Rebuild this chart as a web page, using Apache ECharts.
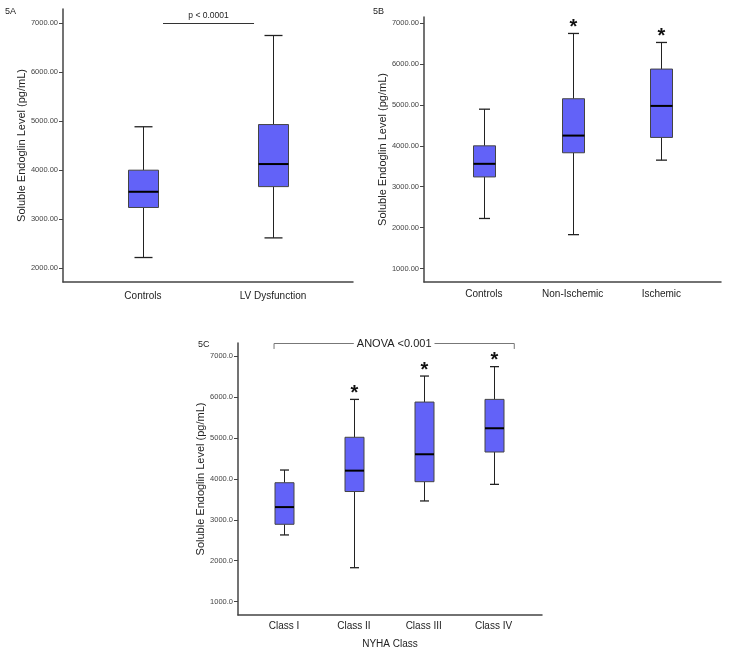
<!DOCTYPE html>
<html>
<head>
<meta charset="utf-8">
<script src="https://cdn.jsdelivr.net/npm/echarts@6/dist/echarts.min.js"></script>
<style>
html,body{margin:0;padding:0;background:#fff;}
#chart{width:729px;height:655px;}
</style>
</head>
<body>
<div id="chart"></div>
<script>
// ---------- DATA ----------
// Panel 5A
const catsA = ['Controls', 'LV Dysfunction'];
const minA = [2220, 2620];
const q1A = [3240, 3665];
const medA = [3560, 4125];
const q3A = [4000, 4930];
const maxA = [4885, 6745];
const sigA = [0, 0];
// Panel 5B
const catsB = ['Controls', 'Non-Ischemic', 'Ischemic'];
const minB = [2225, 1830, 3650];
const q1B = [3240, 3830, 4205];
const medB = [3560, 4250, 4975];
const q3B = [4000, 5150, 5875];
const maxB = [4895, 6745, 6525];
const sigB = [0, 1, 1];
// Panel 5C
const catsC = ['Class I', 'Class II', 'Class III', 'Class IV'];
const minC = [2630, 1830, 3460, 3865];
const q1C = [2890, 3690, 3930, 4655];
const medC = [3310, 4200, 4600, 5235];
const q3C = [3905, 5015, 5875, 5940];
const maxC = [4215, 5940, 6510, 6740];
const sigC = [0, 1, 1, 1];
// Tick values
const yTicksA = [2000, 3000, 4000, 5000, 6000, 7000];
const yTicksB = [1000, 2000, 3000, 4000, 5000, 6000, 7000];
const yTicksC = [1000, 2000, 3000, 4000, 5000, 6000, 7000];
// Annotations
const annotA = { text: 'p < 0.0001', x0: 0.154, x1: 0.854, y: 7000 };
const annotC = { text: 'ANOVA <0.001', x0: -0.143, x1: 3.297, y: 7317, yTick: 7171 };
const yTitle = 'Soluble Endoglin Level (pg/mL)';

// ---------- BUILD ----------
function rows(mins, q1s, meds, q3s, maxs, sigs) {
  return mins.map((m, i) => [i, m, q1s[i], meds[i], q3s[i], maxs[i], sigs[i]]);
}
const FONT = "'Liberation Sans', Arial, sans-serif";
const NARROW = "'Liberation Sans Narrow', 'Liberation Sans', Arial, sans-serif";
const BOX = '#6262f8';

function boxRender(boxW, capW) {
  return function (params, api) {
    const x = api.value(0);
    const lo = api.coord([x, api.value(1)]);
    const q1 = api.coord([x, api.value(2)]);
    const md = api.coord([x, api.value(3)]);
    const q3 = api.coord([x, api.value(4)]);
    const hi = api.coord([x, api.value(5)]);
    const cx = Math.round(lo[0]) + 0.5;
    const wl = { stroke: '#222', lineWidth: 1 };
    const ch = [
      { type: 'line', shape: { x1: cx, y1: lo[1], x2: cx, y2: q1[1] }, style: wl },
      { type: 'line', shape: { x1: cx, y1: q3[1], x2: cx, y2: hi[1] }, style: wl },
      { type: 'line', shape: { x1: cx - capW / 2, y1: lo[1], x2: cx + capW / 2, y2: lo[1] }, style: { stroke: '#222', lineWidth: 1.3 } },
      { type: 'line', shape: { x1: cx - capW / 2, y1: hi[1], x2: cx + capW / 2, y2: hi[1] }, style: { stroke: '#222', lineWidth: 1.3 } },
      { type: 'rect', shape: { x: cx - boxW / 2, y: q3[1], width: boxW, height: q1[1] - q3[1] }, style: { fill: BOX, stroke: '#444', lineWidth: 1 } },
      { type: 'line', shape: { x1: cx - boxW / 2, y1: md[1], x2: cx + boxW / 2, y2: md[1] }, style: { stroke: '#000', lineWidth: 2 } }
    ];
    if (api.value(6)) {
      ch.push({ type: 'text', style: { text: '*', x: cx, y: hi[1] - 6, align: 'center', verticalAlign: 'middle', font: 'bold 20px ' + FONT, fill: '#111' } });
    }
    return { type: 'group', children: ch };
  };
}

function yAxis(gi, min, max, ticks, dec, gap) {
  return {
    type: 'value', gridIndex: gi, min: min, max: max,
    name: yTitle, nameLocation: 'middle', nameGap: gap,
    nameTextStyle: { fontFamily: FONT, fontSize: 11, color: '#222' },
    axisLine: { show: true, onZero: false, lineStyle: { color: '#444', width: 1.5 } },
    axisTick: { show: true, length: 4, lineStyle: { color: '#444' }, customValues: ticks },
    axisLabel: { fontFamily: NARROW, fontSize: 7.5, color: '#444', margin: 5, customValues: ticks,
      formatter: v => Number(v).toFixed(dec) },
    splitLine: { show: false }
  };
}
function xAxis(gi, min, max, cats, margin, name) {
  const idx = cats.map((c, i) => i);
  return {
    type: 'value', gridIndex: gi, min: min, max: max,
    name: name || '', nameLocation: 'middle', nameGap: 24,
    nameTextStyle: { fontFamily: FONT, fontSize: 10, color: '#222' },
    axisLine: { show: true, onZero: false, lineStyle: { color: '#444', width: 1.5 } },
    axisTick: { show: false },
    axisLabel: { fontFamily: FONT, fontSize: 10, color: '#222', margin: margin, customValues: idx,
      formatter: v => cats[Math.round(v)] },
    splitLine: { show: false }
  };
}

const option = {
  backgroundColor: '#fff',
  animation: false,
  title: [
    { text: '5A', left: 5, top: 7, padding: 0, textStyle: { fontFamily: FONT, fontSize: 9, fontWeight: 'normal', color: '#222' } },
    { text: '5B', left: 373, top: 7, padding: 0, textStyle: { fontFamily: FONT, fontSize: 9, fontWeight: 'normal', color: '#222' } },
    { text: '5C', left: 198, top: 340, padding: 0, textStyle: { fontFamily: FONT, fontSize: 9, fontWeight: 'normal', color: '#222' } }
  ],
  grid: [
    { left: 63, top: 9, width: 290, height: 273 },
    { left: 424, top: 17, width: 297, height: 265 },
    { left: 238, top: 343, width: 304, height: 272 }
  ],
  xAxis: [
    xAxis(0, -0.615, 1.615, catsA, 9),
    xAxis(1, -0.675, 2.672, catsB, 7),
    xAxis(2, -0.659, 3.694, catsC, 6, 'NYHA Class')
  ],
  yAxis: [
    yAxis(0, 1721, 7285, yTicksA, 2, 34),
    yAxis(1, 673, 7147, yTicksB, 2, 31),
    yAxis(2, 675, 7317, yTicksC, 1, 29)
  ],
  series: [
    { type: 'custom', xAxisIndex: 0, yAxisIndex: 0, renderItem: boxRender(30, 18), data: rows(minA, q1A, medA, q3A, maxA, sigA), clip: false },
    { type: 'custom', xAxisIndex: 1, yAxisIndex: 1, renderItem: boxRender(22, 11), data: rows(minB, q1B, medB, q3B, maxB, sigB), clip: false },
    { type: 'custom', xAxisIndex: 2, yAxisIndex: 2, renderItem: boxRender(19, 9), data: rows(minC, q1C, medC, q3C, maxC, sigC), clip: false },
    { type: 'custom', xAxisIndex: 0, yAxisIndex: 0, clip: false,
      data: [[annotA.x0, annotA.x1, annotA.y]],
      renderItem: function (params, api) {
        const a = api.coord([api.value(0), api.value(2)]);
        const b = api.coord([api.value(1), api.value(2)]);
        const y = Math.round(a[1]) + 0.5;
        return { type: 'group', children: [
          { type: 'line', shape: { x1: a[0], y1: y, x2: b[0], y2: y }, style: { stroke: '#333', lineWidth: 1 } },
          { type: 'text', style: { text: annotA.text, x: (a[0] + b[0]) / 2, y: y - 3, align: 'center', verticalAlign: 'bottom', font: '8.5px ' + FONT, fill: '#222' } }
        ] };
      } },
    { type: 'custom', xAxisIndex: 2, yAxisIndex: 2, clip: false,
      data: [[annotC.x0, annotC.x1, annotC.y, annotC.yTick]],
      renderItem: function (params, api) {
        const a = api.coord([api.value(0), api.value(2)]);
        const b = api.coord([api.value(1), api.value(2)]);
        const t = api.coord([api.value(0), api.value(3)]);
        const y = Math.round(a[1]) + 0.5;
        const st = { stroke: '#777', lineWidth: 1, fill: null };
        return { type: 'group', children: [
          { type: 'polyline', shape: { points: [[a[0], t[1]], [a[0], y], [b[0], y], [b[0], t[1]]] }, style: st },
          { type: 'text', style: { text: annotC.text, x: (a[0] + b[0]) / 2, y: y, align: 'center', verticalAlign: 'middle', font: '11px ' + FONT, fill: '#222', backgroundColor: '#fff', padding: [0, 3] } }
        ] };
      } }
  ]
};

const chart = echarts.init(document.getElementById('chart'), null, { renderer: 'canvas' });
chart.setOption(option);
</script>
</body>
</html>
